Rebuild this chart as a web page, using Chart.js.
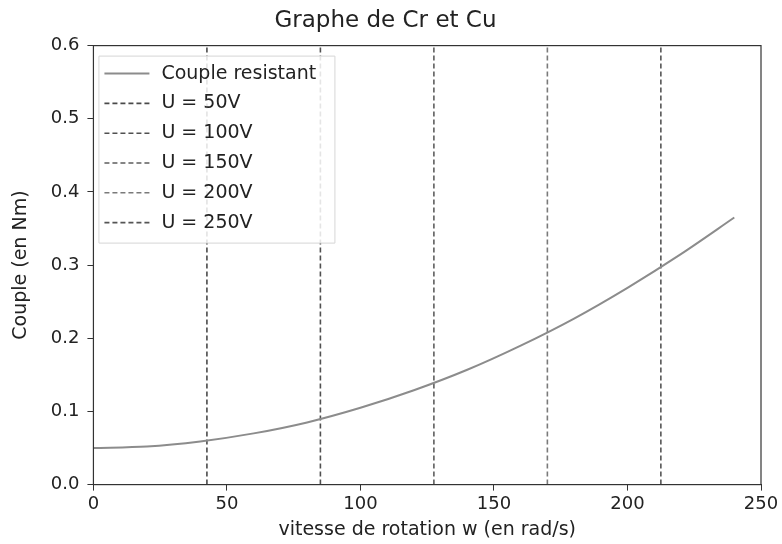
<!DOCTYPE html>
<html>
<head>
<meta charset="utf-8">
<script src="https://cdn.jsdelivr.net/npm/chart.js@4"></script>
<style>
html,body{margin:0;padding:0;background:#fff;}
#wrap{width:782px;height:544px;}
</style>
</head>
<body>
<div id="wrap"><canvas id="c" width="782" height="544"></canvas></div>
<script>
// Data
const speedW = [0, 20, 40, 60, 80, 100, 120, 140, 160, 180, 200, 220, 240];
const coupleResistant = [0.050, 0.052, 0.059, 0.070, 0.085, 0.105, 0.129, 0.157, 0.190, 0.227, 0.269, 0.315, 0.365];
const voltageLabels = ['U = 50V', 'U = 100V', 'U = 150V', 'U = 200V', 'U = 250V'];
const voltageSpeeds = [42.5, 85, 127.5, 170, 212.5];
const verticalSpan = [0, 0.6];
const xTicks = [0, 50, 100, 150, 200, 250];
const yTicks = [0.0, 0.1, 0.2, 0.3, 0.4, 0.5, 0.6];

const voltageColors = ['#4a4a4a', '#505050', '#5e5e5e', '#7a7a7a', '#555555'];
const FONT = "'DejaVu Sans', sans-serif";

const datasets = [{
  label: 'Couple resistant',
  data: speedW.map((w, i) => ({x: w, y: coupleResistant[i]})),
  borderColor: '#8c8c8c',
  borderWidth: 2,
  pointRadius: 0,
  tension: 0.3,
  fill: false
}];
voltageLabels.forEach((lab, i) => {
  datasets.push({
    label: lab,
    data: verticalSpan.map(v => ({x: voltageSpeeds[i], y: v})),
    borderColor: voltageColors[i],
    borderWidth: 1.6,
    borderDash: [5, 3],
    pointRadius: 0,
    fill: false
  });
});

const frameAndLegend = {
  id: 'frameAndLegend',
  afterDatasetsDraw(chart) {
    const ctx = chart.ctx, a = chart.chartArea;
    ctx.save();
    // legend box
    const bx = a.left + 5, by = a.top + 10, bw = 236, bh = 187;
    ctx.fillStyle = 'rgba(255,255,255,0.85)';
    ctx.strokeStyle = '#d6d6d6';
    ctx.lineWidth = 1;
    ctx.beginPath();
    ctx.rect(bx + 0.5, by + 0.5, bw, bh);
    ctx.fill();
    ctx.stroke();
    ctx.font = '19px ' + FONT;
    ctx.textBaseline = 'middle';
    chart.data.datasets.forEach((ds, i) => {
      const y = by + 18 + i * 29.8;
      ctx.strokeStyle = ds.borderColor;
      ctx.lineWidth = ds.borderWidth;
      ctx.setLineDash(ds.borderDash || []);
      ctx.beginPath();
      ctx.moveTo(bx + 6, y);
      ctx.lineTo(bx + 51, y);
      ctx.stroke();
      ctx.setLineDash([]);
      ctx.fillStyle = '#222';
      ctx.fillText(ds.label, bx + 63, y);
    });
    // frame
    ctx.strokeStyle = '#333';
    ctx.lineWidth = 1.2;
    ctx.strokeRect(a.left, a.top, a.right - a.left, a.bottom - a.top);
    ctx.restore();
  }
};

new Chart(document.getElementById('c'), {
  type: 'line',
  data: {datasets},
  options: {
    responsive: false,
    animation: false,
    layout: {padding: {left: 10, right: 21, top: 2, bottom: 3}},
    plugins: {
      legend: {display: false},
      tooltip: {enabled: false},
      title: {
        display: true,
        text: 'Graphe de Cr et Cu',
        color: '#222',
        font: {family: FONT, size: 23, weight: 'normal'},
        padding: {top: 5, bottom: 11}
      }
    },
    scales: {
      x: {
        type: 'linear',
        min: 0, max: 250,
        afterBuildTicks(s) { s.ticks = xTicks.map(v => ({value: v})); },
        grid: {drawOnChartArea: false, drawTicks: true, tickLength: 6, color: '#333'},
        border: {color: '#333'},
        ticks: {color: '#222', font: {family: FONT, size: 18}, padding: 3,
          callback: v => String(v)},
        title: {display: true, text: 'vitesse de rotation w (en rad/s)', color: '#222',
          font: {family: FONT, size: 19}, padding: {top: 0, bottom: 0}}
      },
      y: {
        type: 'linear',
        min: 0, max: 0.6,
        afterBuildTicks(s) { s.ticks = yTicks.map(v => ({value: v})); },
        grid: {drawOnChartArea: false, drawTicks: true, tickLength: 6, color: '#333'},
        border: {color: '#333'},
        ticks: {color: '#222', font: {family: FONT, size: 18}, padding: 8,
          callback: v => Number(v).toFixed(1)},
        title: {display: true, text: 'Couple (en Nm)', color: '#222',
          font: {family: FONT, size: 19}, padding: {top: 0, bottom: 10}}
      }
    }
  },
  plugins: [frameAndLegend]
});
</script>
</body>
</html>
